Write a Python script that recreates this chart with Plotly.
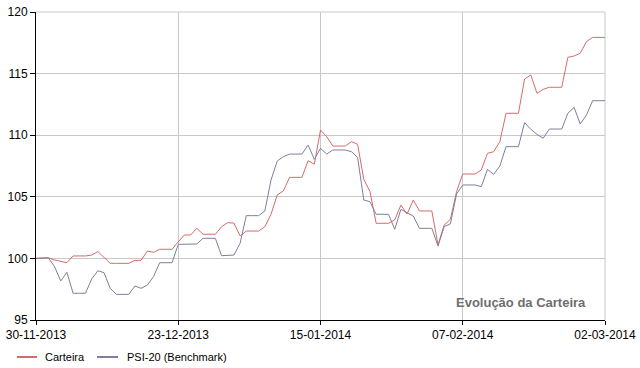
import pandas as pd
import plotly.graph_objects as go

# Daily dates (weekends carry the previous value)
dates = pd.date_range("2013-11-30", "2014-03-02", freq="D")

carteira = [
    100.0, 100.0, 100.05, 99.87, 99.76, 99.65, 100.2, 100.2, 100.2, 100.27,
    100.55, 100.08, 99.6, 99.6, 99.6, 99.6, 99.84, 99.84, 100.6, 100.49,
    100.74, 100.74, 100.74, 101.35, 101.9, 101.9, 102.44, 101.96, 101.96, 101.96,
    102.57, 102.9, 102.87, 101.82, 102.22, 102.22, 102.22, 102.57, 103.58, 105.15,
    105.47, 106.58, 106.58, 106.58, 107.93, 107.64, 110.42, 109.88, 109.12, 109.12,
    109.12, 109.48, 109.26, 106.42, 105.42, 102.85, 102.85, 102.85, 103.12, 104.33,
    103.6, 104.74, 103.85, 103.85, 103.85, 101.1, 102.71, 103.17, 105.42, 106.85,
    106.85, 106.85, 107.18, 108.53, 108.66, 109.48, 111.78, 111.78, 111.78, 114.56,
    114.89, 113.4, 113.72, 113.89, 113.89, 113.89, 116.32, 116.43, 116.65, 117.59,
    117.94, 117.94, 117.94,
]

psi20 = [
    100.0, 100.0, 100.05, 99.33, 98.17, 98.87, 97.17, 97.17, 97.17, 98.33,
    99.0, 98.84, 97.57, 97.08, 97.08, 97.08, 97.76, 97.57, 97.84, 98.52,
    99.65, 99.65, 99.65, 101.14, 101.17, 101.17, 101.17, 101.63, 101.63, 101.63,
    100.22, 100.27, 100.27, 101.23, 103.47, 103.47, 103.47, 103.85, 106.36, 107.9,
    108.26, 108.47, 108.47, 108.47, 109.2, 108.04, 108.93, 108.47, 108.8, 108.8,
    108.8, 108.66, 108.2, 104.74, 104.6, 103.58, 103.58, 103.58, 102.36, 103.98,
    103.7, 103.44, 102.44, 102.44, 102.44, 101.0, 102.58, 102.8, 105.23, 105.96,
    105.96, 105.96, 105.82, 107.23, 106.82, 107.5, 109.07, 109.07, 109.07, 111.02,
    110.48, 110.07, 109.75, 110.5, 110.5, 110.5, 111.78, 112.26, 110.91, 111.64,
    112.8, 112.8, 112.8,
]

x_tick_vals = ["2013-11-30", "2013-12-23", "2014-01-15", "2014-02-07", "2014-03-02"]
x_tick_text = ["30-11-2013", "23-12-2013", "15-01-2014", "07-02-2014", "02-03-2014"]
y_tick_vals = [95, 100, 105, 110, 115, 120]

series_names = ["Carteira", "PSI-20 (Benchmark)"]
RED = "#d66b6b"
BLUE = "#7d809d"
FONT = "Liberation Sans"

fig = go.Figure()
fig.add_trace(go.Scatter(x=dates, y=carteira, mode="lines", name=series_names[0],
                         line=dict(color=RED, width=1), showlegend=False))
fig.add_trace(go.Scatter(x=dates, y=psi20, mode="lines", name=series_names[1],
                         line=dict(color=BLUE, width=1), showlegend=False))

W, H = 640, 368
PL, PR, PT, PB = 36, 605, 12, 320          # plot area in page pixels
L, T, R, B = PL, PT, W - PR, H - PB
pw, ph = PR - PL, PB - PT


def px_x(px):
    return (px - PL) / pw


def px_y(py):
    return (PB - py) / ph


shapes = [
    # top border gridline and right gridline
    dict(type="line", xref="paper", yref="paper", x0=0, x1=1, y0=1, y1=1,
         line=dict(color="#c8c8c8", width=1), layer="below"),
    dict(type="line", xref="paper", yref="paper", x0=1, x1=1, y0=0, y1=1,
         line=dict(color="#c8c8c8", width=1), layer="below"),
    # legend samples
    dict(type="line", xref="paper", yref="paper", x0=px_x(17), x1=px_x(37),
         y0=px_y(357), y1=px_y(357), line=dict(color=RED, width=2)),
    dict(type="line", xref="paper", yref="paper", x0=px_x(97), x1=px_x(118),
         y0=px_y(357), y1=px_y(357), line=dict(color=BLUE, width=2)),
]

annotations = [
    dict(text="Evolução da Carteira", xref="paper", yref="paper",
         x=px_x(521), y=px_y(302), xanchor="center", yanchor="middle",
         showarrow=False, font=dict(family=FONT, size=13, color="#6e6e6e", weight="bold")),
    dict(text=series_names[0], xref="paper", yref="paper", x=px_x(43), y=px_y(357),
         xanchor="left", yanchor="middle", showarrow=False,
         font=dict(family=FONT, size=11, color="#000000")),
    dict(text=series_names[1], xref="paper", yref="paper", x=px_x(125), y=px_y(357),
         xanchor="left", yanchor="middle", showarrow=False,
         font=dict(family=FONT, size=11, color="#000000")),
]

fig.update_layout(
    width=W, height=H,
    margin=dict(l=L, r=R, t=T, b=B, pad=0, autoexpand=False),
    paper_bgcolor="white", plot_bgcolor="white",
    font=dict(family=FONT, size=12, color="#000000"),
    shapes=shapes, annotations=annotations,
    xaxis=dict(
        type="date", range=["2013-11-30", "2014-03-02"],
        tickvals=x_tick_vals, ticktext=x_tick_text,
        showgrid=True, gridcolor="#c8c8c8", gridwidth=1,
        showline=True, linecolor="#000000", linewidth=1,
        ticks="outside", ticklen=4, tickcolor="#000000",
        zeroline=False, tickfont=dict(size=12), automargin=False,
        ticklabeloverflow="allow",
    ),
    yaxis=dict(
        range=[95, 120], tickvals=y_tick_vals,
        showgrid=True, gridcolor="#c8c8c8", gridwidth=1,
        showline=True, linecolor="#000000", linewidth=1,
        ticks="outside", ticklen=5, tickcolor="#000000",
        zeroline=False, tickfont=dict(size=12), automargin=False,
        ticklabeloverflow="allow",
    ),
)

fig.write_html("out.html", config={"displayModeBar": False},
               post_script="document.body.style.margin='0px';")
